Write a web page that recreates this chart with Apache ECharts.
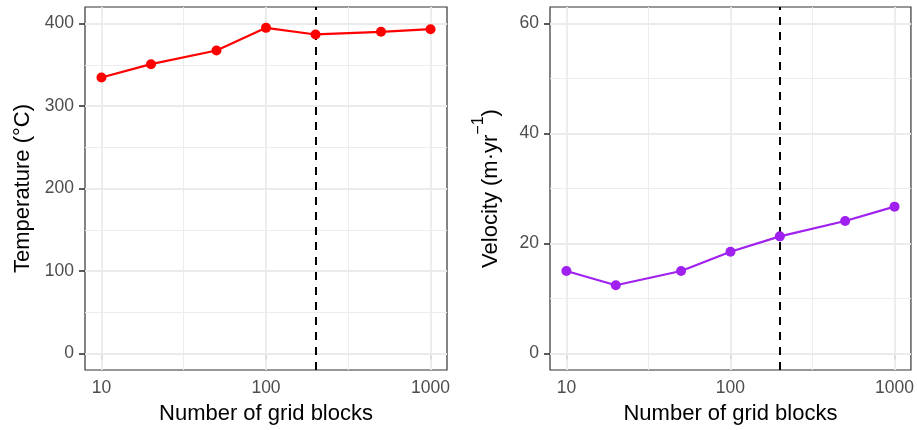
<!DOCTYPE html>
<html>
<head>
<meta charset="utf-8">
<script src="https://cdn.jsdelivr.net/npm/echarts@6/dist/echarts.min.js"></script>
<style>
  html, body { margin: 0; padding: 0; background: #fff; }
  #chart { width: 917px; height: 430px; }
</style>
</head>
<body>
<div id="chart"></div>
<script>
// grid resolution test: number of blocks vs result
const gridBlocks = [10, 20, 50, 100, 200, 500, 1000];
const temperature = [334.5, 350.7, 367.3, 394.7, 386.7, 389.9, 393.1];
const velocity = [15.0, 12.4, 15.0, 18.5, 21.3, 24.1, 26.7];
const chosenBlocks = 200;

// axis breaks
const xBreaks = [10, 100, 1000];
const xMinor = [31.62, 316.2];
const tempBreaks = [0, 100, 200, 300, 400];
const tempMinor = [50, 150, 250, 350];
const velBreaks = [0, 20, 40, 60];
const velMinor = [10, 30, 50];

const FONT = 'Liberation Sans, Arial, Helvetica, sans-serif';
const MAJOR = { color: '#EBEBEB', width: 1.8, type: 'solid' };
const MINOR = { color: '#EDEDED', width: 1, type: 'solid' };

function pairs(xs, ys) {
  return xs.map((x, i) => [x, ys[i]]);
}

// background grid lines drawn as markLines on an empty series
function gridSeries(idx, yMajor, yMinor) {
  const lines = [];
  xMinor.forEach(v => lines.push({ xAxis: v, lineStyle: MINOR }));
  yMinor.forEach(v => lines.push({ yAxis: v, lineStyle: MINOR }));
  xBreaks.forEach(v => lines.push({ xAxis: v, lineStyle: MAJOR }));
  yMajor.forEach(v => lines.push({ yAxis: v, lineStyle: MAJOR }));
  return {
    type: 'line', xAxisIndex: idx, yAxisIndex: idx, data: [], z: 1,
    markLine: { z: 1, silent: true, symbol: 'none', label: { show: false }, animation: false, data: lines }
  };
}

function vline(idx) {
  return {
    type: 'line', xAxisIndex: idx, yAxisIndex: idx, data: [], z: 2,
    markLine: {
      z: 2, silent: true, symbol: 'none', label: { show: false }, animation: false,
      lineStyle: { color: '#000', width: 2, type: [8, 7] },
      data: [{ xAxis: chosenBlocks }]
    }
  };
}

function dataSeries(idx, ys, color) {
  return {
    type: 'line', xAxisIndex: idx, yAxisIndex: idx, z: 3,
    data: pairs(gridBlocks, ys),
    symbol: 'circle', symbolSize: 10,
    lineStyle: { color: color, width: 2.2 },
    itemStyle: { color: color }
  };
}

function xAxisOpt(idx) {
  return {
    type: 'log', logBase: 10, gridIndex: idx,
    min: 7.943, max: 1258.9,
    name: 'Number of grid blocks', nameLocation: 'middle', nameGap: 33,
    nameTextStyle: { fontFamily: FONT, fontSize: 22, color: '#000' },
    axisLine: { show: false },
    axisTick: { show: true, length: 6, customValues: xBreaks, lineStyle: { color: '#333', width: 1.6 } },
    axisLabel: {
      customValues: xBreaks, margin: 9, fontFamily: FONT, fontSize: 17.5, color: '#4D4D4D',
      formatter: v => String(Math.round(v))
    },
    splitLine: { show: false }
  };
}

function yAxisOpt(idx, min, max, breaks, name, gap, rich) {
  return {
    type: 'value', gridIndex: idx, min: min, max: max,
    name: name, nameLocation: 'middle', nameGap: gap,
    nameTextStyle: { fontFamily: FONT, fontSize: 22, color: '#000', rich: rich },
    axisLine: { show: false },
    axisTick: { show: true, length: 6, customValues: breaks, lineStyle: { color: '#333', width: 1.6 } },
    axisLabel: { customValues: breaks, margin: 11, fontFamily: FONT, fontSize: 17.5, color: '#4D4D4D' },
    splitLine: { show: false }
  };
}

const chart = echarts.init(document.getElementById('chart'), null, { renderer: 'canvas' });

chart.setOption({
  animation: false,
  backgroundColor: '#ffffff',
  grid: [
    { left: 85, top: 7, width: 362, height: 363, show: true, borderColor: '#333333', borderWidth: 1.2, backgroundColor: 'transparent' },
    { left: 550, top: 7, width: 362, height: 363, show: true, borderColor: '#333333', borderWidth: 1.2, backgroundColor: 'transparent' }
  ],
  xAxis: [xAxisOpt(0), xAxisOpt(1)],
  yAxis: [
    yAxisOpt(0, -20, 420, tempBreaks, 'Temperature (°C)', 51),
    yAxisOpt(1, -3, 63, velBreaks, '{n|Velocity (m·yr}{s|−1}{n|)}', 48, {
      n: { fontFamily: FONT, fontSize: 22, color: '#000', verticalAlign: 'bottom' },
      s: { fontFamily: FONT, fontSize: 16, color: '#000', verticalAlign: 'top', padding: [0, 0, 15, 0] }
    })
  ],
  series: [
    gridSeries(0, tempBreaks, tempMinor),
    gridSeries(1, velBreaks, velMinor),
    vline(0),
    vline(1),
    dataSeries(0, temperature, '#FF0000'),
    dataSeries(1, velocity, '#A020F0')
  ]
});
</script>
</body>
</html>
